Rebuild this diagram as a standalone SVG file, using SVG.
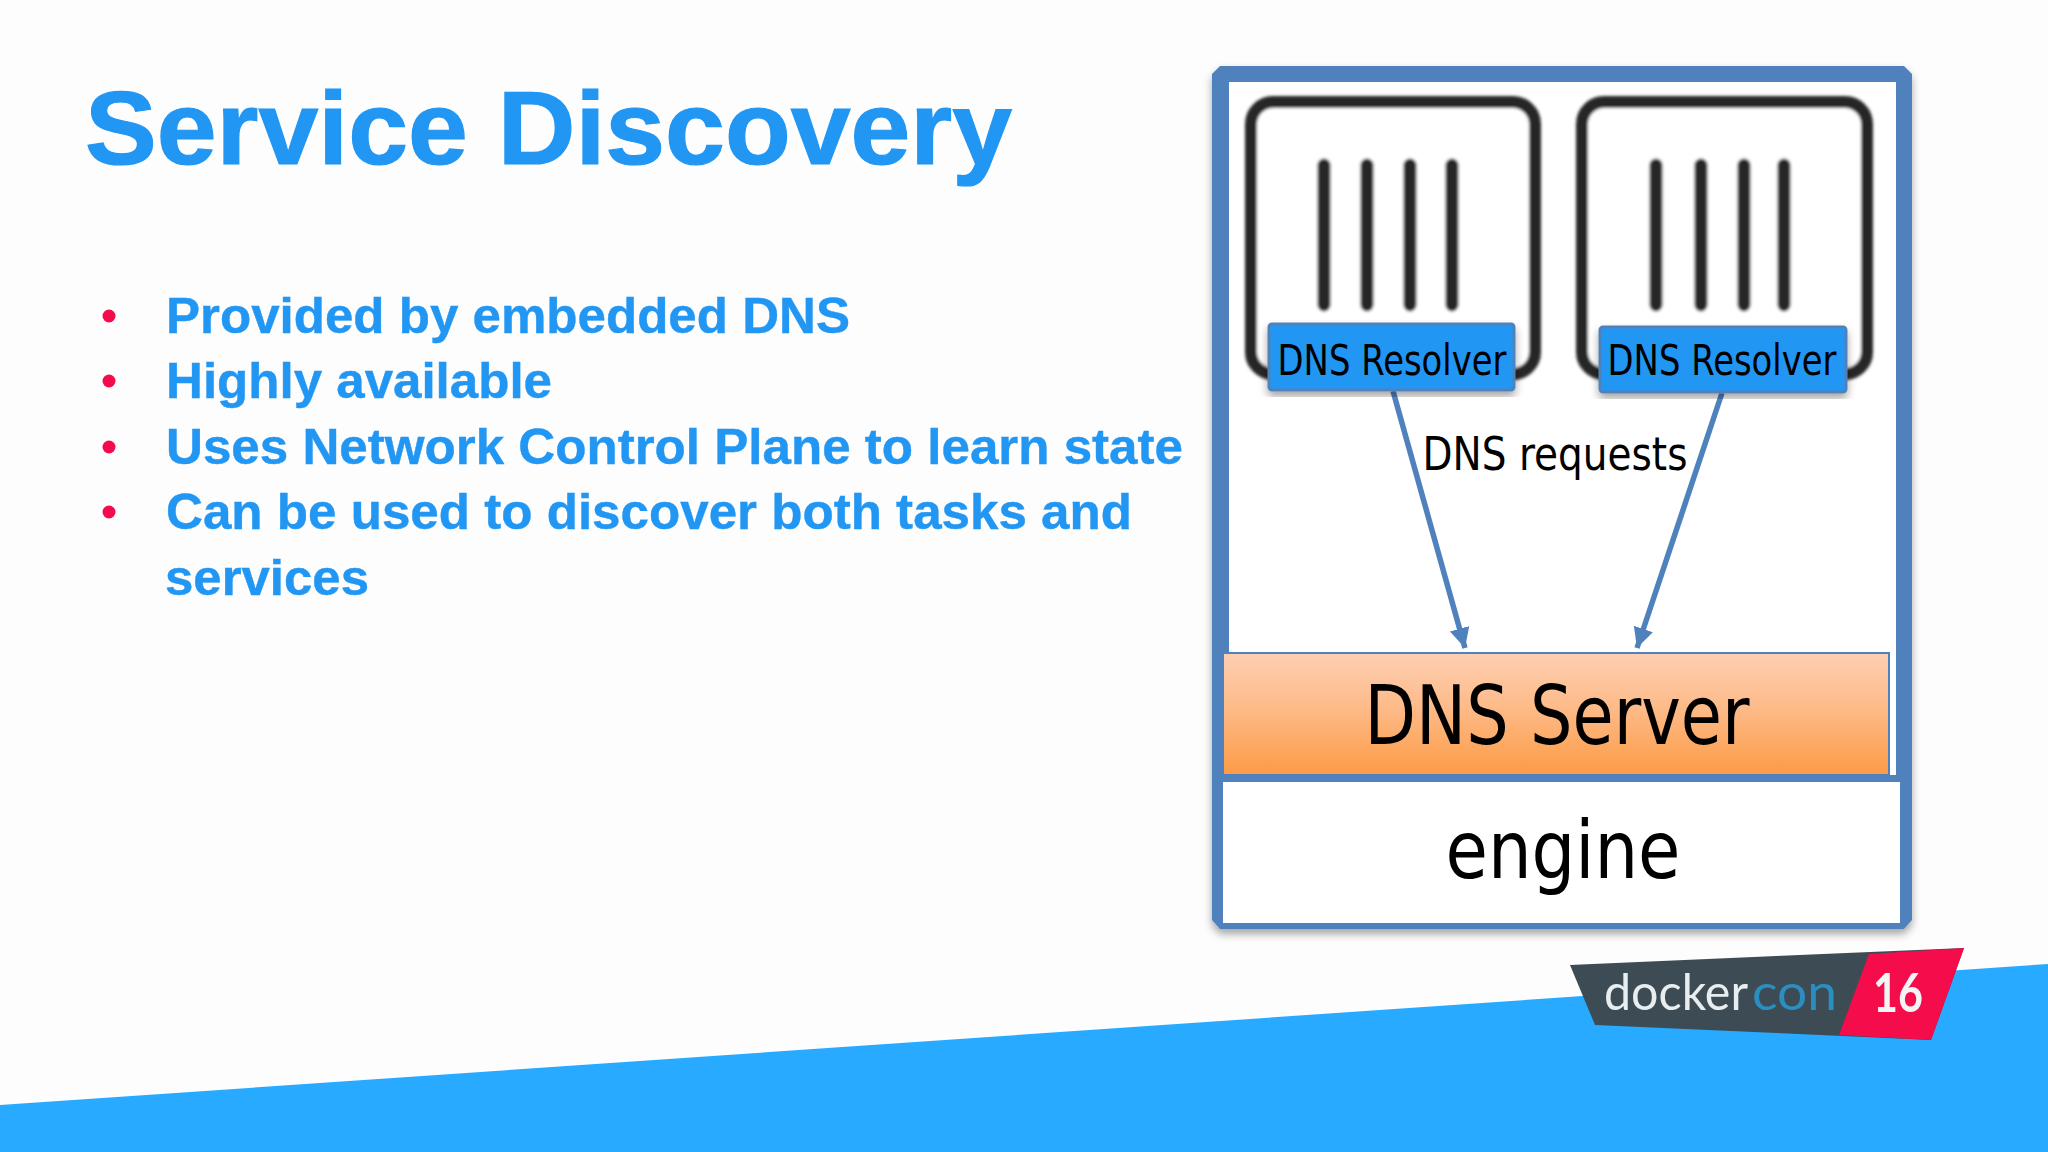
<svg xmlns="http://www.w3.org/2000/svg" width="2048" height="1152" viewBox="0 0 2048 1152">
<defs>
<linearGradient id="orange" x1="0" y1="0" x2="0" y2="1"><stop offset="0" stop-color="#fdcfb4"/><stop offset="0.45" stop-color="#fdbb88"/><stop offset="1" stop-color="#fd9a45"/></linearGradient>
<filter id="soft" x="-5%" y="-5%" width="110%" height="110%"><feGaussianBlur stdDeviation="1.6"/></filter>
<filter id="tiny" x="-5%" y="-5%" width="110%" height="110%"><feGaussianBlur stdDeviation="0.6"/></filter>
<filter id="shadow" x="-5%" y="-5%" width="110%" height="115%"><feDropShadow dx="0" dy="5" stdDeviation="4" flood-color="#000" flood-opacity="0.35"/></filter>
<marker id="arrow" markerUnits="userSpaceOnUse" markerWidth="22" markerHeight="22" refX="20" refY="10" orient="auto"><path d="M0,0 L20,10 L0,20 Z" fill="#4f81bd"/></marker>
</defs>
<style>
.head{font-family:"Liberation Sans",Arial,sans-serif;font-weight:700;fill:#2196f3;stroke:#2196f3;stroke-width:1.2}
.item{font-family:"Liberation Sans",Arial,sans-serif;font-weight:700;font-size:50px;fill:#2196f3;stroke:#2196f3;stroke-width:.4}
.lbl{font-family:"DejaVu Sans","Noto Sans",sans-serif;fill:#000;text-anchor:middle}
.box{fill:#fff;stroke:#262626;stroke-width:12}
.bar{stroke:#262626;stroke-width:13;stroke-linecap:round}
.res{fill:#2196f3;stroke:#4f81bd;stroke-width:3;filter:url(#shadow)}
.dot{fill:#f50a4b}
.conn{stroke:#4f81bd;stroke-width:5.5;fill:none;marker-end:url(#arrow)}
.logo{font-family:"Lato","Noto Sans",sans-serif}
</style>
<rect width="2048" height="1152" fill="#fdfdfe"/>
<polygon id="band" points="0,1105 2048,964 2048,1152 0,1152" fill="#27aaff"/>
<g id="title"><text class="head" x="85" y="164" font-size="104" textLength="927" lengthAdjust="spacingAndGlyphs">Service Discovery</text></g>
<g id="bullets">
<circle class="dot" cx="109" cy="316" r="6.5"/><circle class="dot" cx="109" cy="381" r="6.5"/><circle class="dot" cx="109" cy="447" r="6.5"/><circle class="dot" cx="109" cy="512" r="6.5"/>
<text class="item" x="166" y="333" textLength="684" lengthAdjust="spacingAndGlyphs">Provided by embedded DNS</text>
<text class="item" x="166" y="398" textLength="386" lengthAdjust="spacingAndGlyphs">Highly available</text>
<text class="item" x="166" y="464" textLength="1017" lengthAdjust="spacingAndGlyphs">Uses Network Control Plane to learn state</text>
<text class="item" x="166" y="529" textLength="966" lengthAdjust="spacingAndGlyphs">Can be used to discover both tasks and</text>
<text class="item" x="165" y="595" textLength="204" lengthAdjust="spacingAndGlyphs">services</text>
</g>
<g id="host">
<path d="M1220,66 H1904 L1912,74 V920 L1904,929 H1220 L1212,920 V74 Z" fill="#4f81bd" filter="url(#shadow)"/>
<rect x="1229" y="82" width="667" height="693" fill="#fff"/>
<rect x="1223" y="775" width="673" height="7" fill="#4f81bd"/>
</g>
<g id="container-1">
<g filter="url(#soft)">
<rect class="box" x="1251" y="102" width="284" height="272" rx="22"/>
<path class="bar" d="M1324,165V305M1367,165V305M1410,165V305M1452,165V305"/>
</g>
</g>
<g id="container-2">
<g filter="url(#soft)">
<rect class="box" x="1582" y="102" width="285" height="272" rx="22"/>
<path class="bar" d="M1656,165V305M1701,165V305M1744,165V305M1784,165V305"/>
</g>
</g>
<g id="connectors">
<line class="conn" x1="1393" y1="391" x2="1465" y2="648"/>
<line class="conn" x1="1722" y1="393" x2="1637" y2="648"/>
</g>
<g id="resolver-1"><rect class="res" x="1269" y="324" width="245" height="66" rx="3"/><text class="lbl" x="1392" y="375" font-size="42" textLength="229" lengthAdjust="spacingAndGlyphs">DNS Resolver</text></g>
<g id="resolver-2"><rect class="res" x="1600" y="327" width="246" height="65" rx="3"/><text class="lbl" x="1722" y="375" font-size="42" textLength="229" lengthAdjust="spacingAndGlyphs">DNS Resolver</text></g>
<text class="lbl" x="1555" y="470" font-size="46" textLength="265" lengthAdjust="spacingAndGlyphs">DNS requests</text>
<g id="dns-server"><rect x="1223" y="653" width="666" height="122" fill="url(#orange)" stroke="#4f81bd" stroke-width="2"/><text class="lbl" x="1557" y="744" font-size="82" textLength="385" lengthAdjust="spacingAndGlyphs">DNS Server</text></g>
<g id="engine"><rect x="1223" y="782" width="677" height="141" fill="#fff"/><text class="lbl" x="1563" y="878" font-size="80" textLength="235" lengthAdjust="spacingAndGlyphs">engine</text></g>
<g id="logo" filter="url(#tiny)">
<polygon points="1570,965 1964,948 1931,1040 1595,1025" fill="#3d4c54"/>
<polygon points="1869,954 1964,948 1931,1040 1839,1035" fill="#f50a4b"/>
<text class="logo" x="1604" y="1010" font-size="50" fill="#e8eeef" textLength="144" lengthAdjust="spacingAndGlyphs">docker</text>
<text class="logo" x="1752" y="1010" font-size="50" fill="#2a8ec0" textLength="85" lengthAdjust="spacingAndGlyphs">con</text>
<text class="logo" x="1873" y="1012" font-size="54" font-weight="700" fill="#f4f4f4" textLength="50" lengthAdjust="spacingAndGlyphs">16</text>
</g>
</svg>
